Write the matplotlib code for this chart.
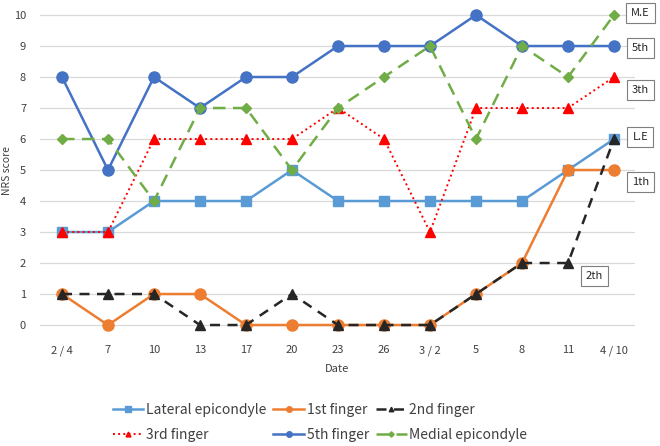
import matplotlib
matplotlib.use('Agg')
import matplotlib.pyplot as plt

plt.rcParams['font.family'] = ['Noto Sans CJK KR', 'DejaVu Sans']

# 데이터
dates = ['2 / 4', '7', '10', '13', '17', '20', '23', '26', '3 / 2', '5', '8', '11', '4 / 10']
lateral = [3, 3, 4, 4, 4, 5, 4, 4, 4, 4, 4, 5, 6]
finger1 = [1, 0, 1, 1, 0, 0, 0, 0, 0, 1, 2, 5, 5]
finger2 = [1, 1, 1, 0, 0, 1, 0, 0, 0, 1, 2, 2, 6]
finger3 = [3, 3, 6, 6, 6, 6, 7, 6, 3, 7, 7, 7, 8]
finger5 = [8, 5, 8, 7, 8, 8, 9, 9, 9, 10, 9, 9, 9]
medial = [6, 6, 4, 7, 7, 5, 7, 8, 9, 6, 9, 8, 10]

tags = ['M.E', '5th', '3th', 'L.E', '1th', '2th']
tag_x = [12.57, 12.57, 12.57, 12.57, 12.57, 11.57]
tag_y = [10.06, 8.94, 7.58, 6.06, 4.6, 1.58]

fig = plt.figure(figsize=(6.6, 4.46), dpi=100)
ax = fig.add_axes([0.0606, 0.2504, 0.9015, 0.7368])

x = list(range(len(dates)))
l_le, = ax.plot(x, lateral, color='#5B9BD5', lw=1.8, marker='s', ms=7.5, label='Lateral epicondyle')
l_1, = ax.plot(x, finger1, color='#ED7D31', lw=1.8, marker='o', ms=8, label='1st finger')
l_2, = ax.plot(x, finger2, color='#262626', lw=1.8, ls=(0, (4, 3)), marker='^', ms=6.5, label='2nd finger')
l_3, = ax.plot(x, finger3, color='#FF0000', lw=1.4, ls=':', marker='^', ms=7, label='3rd finger')
l_5, = ax.plot(x, finger5, color='#4472C4', lw=1.8, marker='o', ms=8, label='5th finger')
l_me, = ax.plot(x, medial, color='#70AD47', lw=1.8, ls=(0, (5, 3)), marker='D', ms=5.5, label='Medial epicondyle')

for t, tx, ty in zip(tags, tag_x, tag_y):
    ax.text(tx, ty, t, ha='center', va='center', fontsize=8, color='#262626',
            bbox=dict(boxstyle='square,pad=0.45', fc='white', ec='#7f7f7f', lw=0.8),
            clip_on=False)

ax.set_xlim(-0.478, 12.456)
ax.set_ylim(-0.3, 10.3)
ax.set_yticks(range(0, 11))
ax.set_xticks(x)
ax.set_xticklabels(dates)
ax.tick_params(length=0, labelsize=8, colors='#404040', pad=8)
ax.tick_params(axis='y', pad=10)
ax.grid(axis='y', color='#d9d9d9', lw=0.9)
ax.set_axisbelow(True)
for s in ax.spines.values():
    s.set_visible(False)
ax.set_ylabel('NRS score', fontsize=7.5, color='#404040', labelpad=1)
ax.set_xlabel('Date', fontsize=8, color='#404040', labelpad=6)

handles = [l_le, l_3, l_1, l_5, l_2, l_me]
fig.legend(handles=handles, labels=[h.get_label() for h in handles], ncol=3,
           loc='center', bbox_to_anchor=(0.485, 0.053), frameon=False, fontsize=10,
           markerscale=0.5, handlelength=2.2, handletextpad=0.2, columnspacing=0.5,
           labelspacing=0.75, labelcolor='#404040')

fig.savefig('out.png', dpi=100)
